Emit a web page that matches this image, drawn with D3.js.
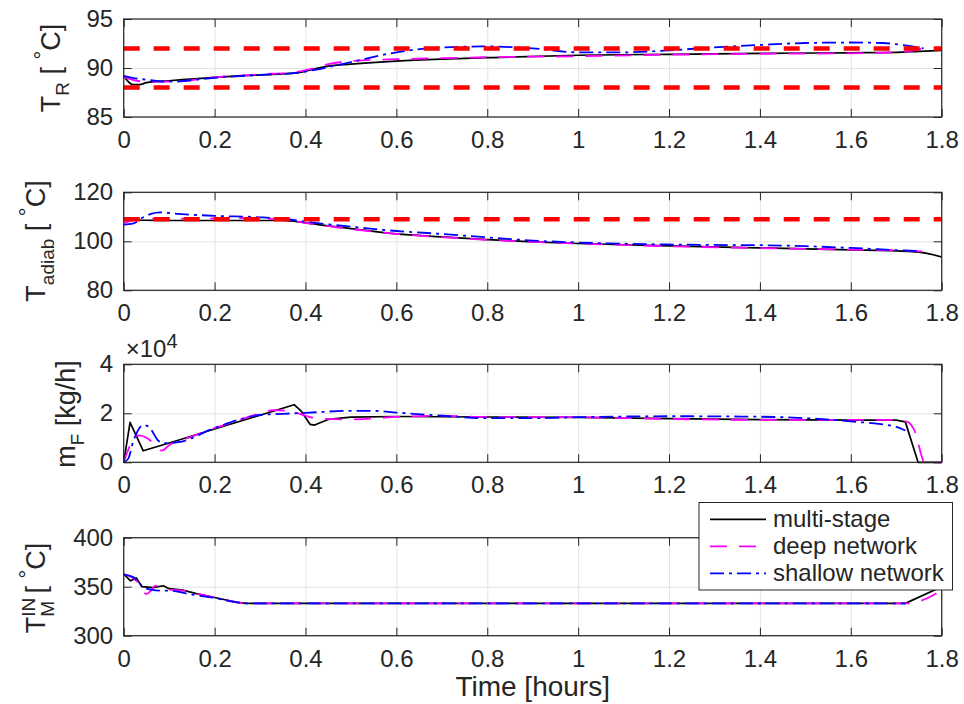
<!DOCTYPE html>
<html><head><meta charset="utf-8">
<script src="https://cdn.jsdelivr.net/npm/d3@7"></script>
<style>
body{margin:0;background:#fff}
svg text{font-family:"Liberation Sans",Arial,Helvetica,sans-serif;fill:#262626}
</style>
</head><body>
<svg id="chart" width="964" height="704"></svg>
<script>
// ---------------- DATA ----------------
const timeTicks = [0, 0.2, 0.4, 0.6, 0.8, 1, 1.2, 1.4, 1.6, 1.8];
const timeTickLabels = ["0","0.2","0.4","0.6","0.8","1","1.2","1.4","1.6","1.8"];
const seriesNames = ["multi-stage", "deep network", "shallow network"];

// Panel 1: reactor temperature T_R [°C]  ([time h, value])
const trMulti = [[0,89.2],[0.01,88.6],[0.02,88.3],[0.035,88.3],[0.05,88.5],[0.1,88.7],[0.2,89.05],[0.3,89.3],[0.38,89.5],[0.42,89.9],[0.45,90.2],[0.5,90.4],[0.6,90.7],[0.7,90.9],[0.8,91.05],[1.0,91.3],[1.2,91.4],[1.4,91.5],[1.6,91.55],[1.7,91.6],[1.75,91.7],[1.8,91.8]];
const trDeep = [[0,89.1],[0.02,88.8],[0.05,88.6],[0.1,88.6],[0.2,89.05],[0.3,89.35],[0.38,89.6],[0.42,90.0],[0.45,90.4],[0.5,90.7],[0.6,90.9],[0.7,91.0],[0.8,91.1],[1.0,91.2],[1.2,91.35],[1.4,91.45],[1.6,91.5],[1.7,91.6],[1.74,91.8],[1.76,92.0]];
const trShallow = [[0,89.2],[0.02,89.0],[0.05,88.8],[0.1,88.6],[0.2,89.0],[0.3,89.3],[0.38,89.5],[0.42,89.8],[0.5,90.6],[0.6,91.6],[0.7,92.1],[0.8,92.2],[0.9,92.0],[1.0,91.6],[1.1,91.6],[1.2,91.8],[1.3,92.1],[1.4,92.35],[1.5,92.55],[1.6,92.6],[1.67,92.55],[1.72,92.3],[1.76,92.0]];
const trBounds = [88, 92];
const trTicks = [85, 90, 95];

// Panel 2: adiabatic temperature T_adiab [°C]
const tadMulti = [[0,108.7],[0.05,108.6],[0.1,108.5],[0.2,108.5],[0.3,108.5],[0.35,108.5],[0.4,107.5],[0.45,106.3],[0.5,105.2],[0.6,103.0],[0.7,101.8],[0.8,100.7],[0.9,99.8],[1.0,99.1],[1.2,98.1],[1.4,97.3],[1.6,96.5],[1.7,96.1],[1.75,95.6],[1.8,93.6]];
const tadDeep = [[0,107.5],[0.02,108.5],[0.05,109.3],[0.1,109.2],[0.2,109.3],[0.28,109.5],[0.32,109.2],[0.36,108.7],[0.4,107.5],[0.45,106.2],[0.5,105.0],[0.6,103.0],[0.7,101.7],[0.8,100.6],[0.9,99.8],[1.0,99.1],[1.2,98.0],[1.4,97.2],[1.6,96.6],[1.7,96.3],[1.76,95.8]];
const tadShallow = [[0,106.8],[0.02,107.2],[0.04,109.5],[0.06,111.2],[0.08,111.8],[0.12,111.2],[0.2,110.4],[0.3,109.8],[0.36,109.0],[0.4,108.0],[0.5,106.0],[0.6,104.2],[0.7,103.0],[0.8,101.6],[0.9,100.3],[1.0,99.5],[1.2,98.7],[1.3,98.5],[1.4,98.4],[1.5,98.0],[1.6,97.3],[1.7,96.4],[1.75,96.0]];
const tadBounds = [109];
const tadTicks = [80, 100, 120];

// Panel 3: feed flow m_F [kg/h]
const mfMulti = [[0,0],[0.014,16300],[0.043,4700],[0.1,7900],[0.2,13600],[0.3,19200],[0.375,23500],[0.39,21000],[0.41,15500],[0.42,15200],[0.45,17500],[0.5,18400],[0.6,18700],[0.8,18500],[1.0,18300],[1.2,17800],[1.4,17400],[1.6,17200],[1.7,17200],[1.72,16500],[1.748,0],[1.8,0]];
const mfDeep = [[0,0],[0.02,9000],[0.035,11000],[0.05,10000],[0.062,8400],[0.084,4800],[0.1,7000],[0.15,10500],[0.2,14000],[0.25,17000],[0.3,20000],[0.33,21300],[0.37,20700],[0.4,19000],[0.43,17800],[0.5,17500],[0.6,18500],[0.7,19000],[0.8,18500],[1.0,18400],[1.2,17700],[1.4,17300],[1.6,17300],[1.7,17300],[1.725,16500],[1.74,13000],[1.763,0],[1.8,0]];
const mfShallow = [[0,0],[0.01,1500],[0.021,8500],[0.03,12500],[0.043,15200],[0.055,14500],[0.065,12000],[0.075,9000],[0.09,7800],[0.12,8200],[0.2,14000],[0.3,19300],[0.35,19800],[0.4,20200],[0.5,21000],[0.55,21000],[0.6,20300],[0.7,19000],[0.8,18000],[0.9,18000],[1.0,18400],[1.2,18800],[1.4,18600],[1.5,18000],[1.6,16700],[1.7,14500],[1.72,13000]];
const mfTicks = [0, 20000, 40000];

// Panel 4: inlet temperature T_M^IN [°C]
const tmMulti = [[0,363],[0.015,356],[0.028,359],[0.04,350],[0.065,349],[0.087,351],[0.1,348],[0.13,346.5],[0.16,343],[0.2,339],[0.25,334],[0.27,333],[1.72,333],[1.8,350]];
const tmDeep = [[0,363],[0.02,359],[0.03,355],[0.05,342.5],[0.06,346],[0.07,351],[0.085,349],[0.1,347],[0.13,346],[0.16,343],[0.2,339],[0.25,334],[0.27,333],[1.73,333],[1.75,335],[1.78,341],[1.8,347]];
const tmShallow = [[0,362],[0.02,360],[0.03,356],[0.04,351],[0.06,347],[0.08,346],[0.1,346],[0.15,342],[0.2,338.5],[0.25,334],[0.27,333],[1.72,333]];
const tmTicks = [300, 350, 400];

// ---------------- STYLE / LAYOUT ----------------
const colors = ["#000000", "#ff00ff", "#0000ff"];
const dashes = [null, "17,12", "14,5,3,5"];
const widths = [1.7, 1.8, 1.8];
const textColor = "#262626";
const plotLeft = 123.7, plotRight = 941.7, plotH = 98;
const panelTops = [19, 192.3, 364.3, 537.7];
const tickFont = 24;

const svg = d3.select("#chart");
const x = d3.scaleLinear().domain([0, 1.8]).range([plotLeft, plotRight]);

const panels = [
  { series: [trMulti, trDeep, trShallow], domain: [85, 95], ticks: trTicks, fmt: d => String(d), bounds: trBounds,
    curves: [d3.curveMonotoneX, d3.curveMonotoneX, d3.curveMonotoneX], labelX: 60, labelY: 68,
    label: [{t:"T"},{t:"R",s:"sub"},{t:" [ "},{t:"°",s:"deg"},{t:"C]"}] },
  { series: [tadMulti, tadDeep, tadShallow], domain: [80, 120], ticks: tadTicks, fmt: d => String(d), bounds: tadBounds,
    curves: [d3.curveMonotoneX, d3.curveMonotoneX, d3.curveMonotoneX], labelX: 45, labelY: 241,
    label: [{t:"T"},{t:"adiab",s:"sub"},{t:" [ "},{t:"°",s:"deg"},{t:"C]"}] },
  { series: [mfMulti, mfDeep, mfShallow], domain: [0, 40000], ticks: mfTicks, fmt: d => String(d / 1e4), bounds: [],
    curves: [d3.curveLinear, d3.curveMonotoneX, d3.curveMonotoneX], labelX: 75, labelY: 414, exponent: true,
    label: [{t:"m"},{t:"F",s:"sub"},{t:" [kg/h]"}] },
  { series: [tmMulti, tmDeep, tmShallow], domain: [300, 400], ticks: tmTicks, fmt: d => String(d), bounds: [],
    curves: [d3.curveLinear, d3.curveMonotoneX, d3.curveMonotoneX], labelX: 45, labelY: 588,
    label: [{t:"T"},{t:"IN",s:"sup"},{t:"M",s:"sub",stack:true},{t:" [ "},{t:"°",s:"deg"},{t:"C]"}] }
];

function styleAxis(g, fontSize) {
  g.attr("font-family", null).attr("font-size", null);
  g.select(".domain").remove();
  g.selectAll(".tick line").attr("stroke", textColor).attr("stroke-width", 1);
  g.selectAll(".tick text").attr("fill", textColor).style("font-size", fontSize + "px");
}

panels.forEach((p, i) => {
  const top = panelTops[i], bottom = top + plotH;
  const y = d3.scaleLinear().domain(p.domain).range([bottom, top]);
  const g = svg.append("g");

  // grid
  g.append("g").attr("transform", `translate(0,${bottom})`)
    .call(d3.axisBottom(x).tickValues(timeTicks).tickSize(-plotH).tickFormat(""))
    .call(a => { a.select(".domain").remove(); a.selectAll("line").attr("stroke", "#e4e4e4").attr("stroke-width", 1); });
  g.append("g").attr("transform", `translate(${plotLeft},0)`)
    .call(d3.axisLeft(y).tickValues(p.ticks).tickSize(-(plotRight - plotLeft)).tickFormat(""))
    .call(a => { a.select(".domain").remove(); a.selectAll("line").attr("stroke", "#e4e4e4").attr("stroke-width", 1); });

  // series
  p.series.forEach((data, k) => {
    const line = d3.line().x(d => x(d[0])).y(d => y(d[1])).curve(p.curves[k]);
    g.append("path").datum(data).attr("d", line)
      .attr("fill", "none").attr("stroke", colors[k]).attr("stroke-width", widths[k])
      .attr("stroke-dasharray", dashes[k]).attr("stroke-linejoin", "round");
  });

  // constraint bounds
  p.bounds.forEach(b => {
    g.append("line").attr("x1", x(0)).attr("x2", x(1.8)).attr("y1", y(b)).attr("y2", y(b))
      .attr("stroke", "#ff0000").attr("stroke-width", 4.5).attr("stroke-dasharray", "16,14");
  });

  // box
  g.append("rect").attr("x", plotLeft).attr("y", top).attr("width", plotRight - plotLeft).attr("height", plotH)
    .attr("fill", "none").attr("stroke", textColor).attr("stroke-width", 1.2);

  // axes with inward ticks
  g.append("g").attr("transform", `translate(0,${bottom})`)
    .call(d3.axisBottom(x).tickValues(timeTicks).tickFormat((d, j) => timeTickLabels[j]).tickSize(-8).tickPadding(14))
    .call(a => styleAxis(a, tickFont));
  g.append("g").attr("transform", `translate(0,${top})`)
    .call(d3.axisTop(x).tickValues(timeTicks).tickFormat("").tickSize(-8))
    .call(a => styleAxis(a, tickFont));
  g.append("g").attr("transform", `translate(${plotLeft},0)`)
    .call(d3.axisLeft(y).tickValues(p.ticks).tickFormat(p.fmt).tickSize(-8).tickPadding(10.5))
    .call(a => styleAxis(a, tickFont));
  g.append("g").attr("transform", `translate(${plotRight},0)`)
    .call(d3.axisRight(y).tickValues(p.ticks).tickFormat("").tickSize(-8))
    .call(a => styleAxis(a, tickFont));

  // y label (rotated, with sub/superscripts)
  const lab = g.append("text").attr("transform", `translate(${p.labelX},${p.labelY}) rotate(-90)`)
    .attr("text-anchor", "middle").style("font-size", "27px");
  let cur = 0, prevW = 0;
  p.label.forEach(piece => {
    const shift = piece.s === "sub" ? 9 : piece.s === "sup" ? -10 : piece.s === "deg" ? -10 : 0;
    const size = piece.s ? (piece.s === "deg" ? 22 : 19) : 27;
    const ts = lab.append("tspan").text(piece.t).style("font-size", size + "px").attr("dy", shift - cur);
    if (piece.stack) ts.attr("dx", -prevW);
    cur = shift;
    prevW = ts.node().getComputedTextLength();
  });

  if (p.exponent) {
    const e = g.append("text").attr("x", plotLeft + 2).attr("y", top - 7).style("font-size", "24px");
    e.append("tspan").text("×10");
    e.append("tspan").text("4").style("font-size", "20px").attr("dy", -9);
  }
});

// x label
svg.append("text").attr("x", (plotLeft + plotRight) / 2).attr("y", 696).attr("text-anchor", "middle")
  .style("font-size", "28px").text("Time [hours]");

// legend
const leg = svg.append("g");
leg.append("rect").attr("x", 699).attr("y", 502.5).attr("width", 253.5).attr("height", 87.5)
  .attr("fill", "#fff").attr("stroke", textColor).attr("stroke-width", 1);
const legRows = [519.3, 546.3, 573.3];
seriesNames.forEach((name, k) => {
  leg.append("line").attr("x1", 710).attr("x2", 766).attr("y1", legRows[k]).attr("y2", legRows[k])
    .attr("stroke", colors[k]).attr("stroke-width", widths[k]).attr("stroke-dasharray", dashes[k]);
  leg.append("text").attr("x", 773).attr("y", legRows[k] + 7.5).style("font-size", "24px").text(name);
});
</script>
</body></html>
